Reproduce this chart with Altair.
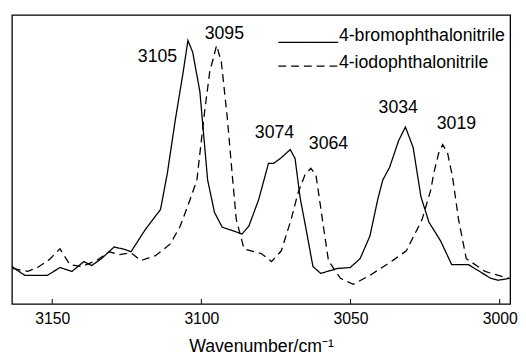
import altair as alt
import pandas as pd

# 4-bromophthalonitrile (solid)
bromo_wn = [3163.5, 3159.2, 3151.6, 3147.4, 3143.4, 3139.4, 3136.8, 3133.5, 3129.2, 3125.3,
            3123.6, 3118.7, 3113.7, 3111.4, 3108.8, 3106.1, 3104.5, 3102.9, 3100.5, 3097.9,
            3095.6, 3093.0, 3089.0, 3086.4, 3084.1, 3080.8, 3077.5, 3075.8, 3073.5, 3070.2,
            3068.6, 3066.9, 3064.9, 3062.6, 3060.0, 3054.4, 3050.1, 3046.8, 3043.5, 3040.9,
            3039.2, 3036.9, 3033.9, 3031.6, 3029.0, 3026.4, 3023.7, 3019.8, 3016.1, 3010.5,
            3003.0, 3000.6, 2996.7]
bromo_int = [38, 29, 29, 37, 33, 43, 39, 46, 58, 55,
             53, 76, 96, 133, 186, 236, 268, 256, 216, 126,
             93, 78, 74, 71, 79, 106, 143, 143, 148, 157,
             148, 108, 76, 38, 31, 36, 37, 46, 69, 106,
             126, 139, 166, 180, 159, 109, 83, 64, 40, 40,
             26, 24, 26]

# 4-iodophthalonitrile (dashed)
iodo_wn = [3163.2, 3158.2, 3154.9, 3151.0, 3147.4, 3144.1, 3140.1, 3135.2, 3130.9, 3127.6,
           3123.6, 3120.3, 3115.4, 3110.4, 3107.1, 3103.8, 3101.5, 3098.9, 3097.2, 3094.9,
           3093.3, 3091.3, 3089.7, 3088.3, 3085.7, 3079.8, 3076.5, 3073.2, 3069.9, 3067.6,
           3065.3, 3063.3, 3061.6, 3061.0, 3059.3, 3057.4, 3053.4, 3049.1, 3043.5, 3035.9,
           3031.3, 3026.0, 3023.1, 3022.1, 3020.4, 3019.1, 3017.5, 3015.8, 3013.8, 3011.2,
           3004.9, 2998.3, 2996.7]
iodo_int = [36, 33, 37, 45, 56, 40, 38, 44, 53, 50,
            52, 44, 49, 61, 79, 106, 126, 196, 236, 263,
            246, 189, 133, 86, 56, 51, 43, 54, 86, 113,
            131, 138, 131, 119, 83, 44, 26, 20, 29, 44,
            54, 86, 116, 133, 154, 162, 154, 129, 86, 46,
            33, 27, 26]

series_names = ["4-bromophthalonitrile", "4-iodophthalonitrile"]

# peak annotations
peak_text = ["3105", "3095", "3074", "3064", "3034", "3019"]
peak_wn = [3114.7, 3092.3, 3075.5, 3057.4, 3034.0, 3014.5]
peak_int = [251, 275, 174, 163, 199, 183]

# legend (drawn inside the plot, in data units)
legend_line_start = [3074.2, 3074.2]
legend_line_end = [3054.1, 3054.1]
legend_line_int = [266, 242]
legend_text_wn = [3053.9, 3053.9]
legend_text_int = [272, 245]

tick_values = [3150, 3100, 3050, 3000]

rows = []
for i, (w, v) in enumerate(zip(bromo_wn, bromo_int)):
    rows.append({"wn": w, "I": v, "s": series_names[0], "o": i})
for i, (w, v) in enumerate(zip(iodo_wn, iodo_int)):
    rows.append({"wn": w, "I": v, "s": series_names[1], "o": i})
df = pd.DataFrame(rows)

peaks = pd.DataFrame({"t": peak_text, "wn": peak_wn, "I": peak_int})
ticks = pd.DataFrame({"wn": tick_values, "y0": [0] * 4, "y1": [5] * 4})
leg = pd.DataFrame({"s": series_names, "x1": legend_line_start, "x2": legend_line_end,
                    "yl": legend_line_int, "xt": legend_text_wn, "yt": legend_text_int})

FONT = "Liberation Sans"
xscale = alt.Scale(domain=[3163.5, 2996.5], nice=False, zero=False)
yscale = alt.Scale(domain=[0, 294], nice=False, zero=False)
dash = alt.StrokeDash("s:N", scale=alt.Scale(domain=series_names, range=[[1, 0], [8, 5]]),
                      legend=None)

lines = alt.Chart(df).mark_line(color="black", strokeWidth=1.3).encode(
    x=alt.X("wn:Q", scale=xscale,
            axis=alt.Axis(values=tick_values, title="Wavenumber/cm\u207b\u00b9", format="d",
                          domain=False, ticks=False, grid=False, labelPadding=7,
                          labelFontSize=16, labelFont=FONT, labelColor="black",
                          titleFontSize=18, titleFont=FONT, titleFontWeight="normal",
                          titleColor="black", titlePadding=11)),
    y=alt.Y("I:Q", scale=yscale, axis=None),
    strokeDash=dash,
    order="o:Q",
)

labels = alt.Chart(peaks).mark_text(fontSize=18, font=FONT, color="black").encode(
    x=alt.X("wn:Q", scale=xscale), y=alt.Y("I:Q", scale=yscale), text="t:N"
)

tickmarks = alt.Chart(ticks).mark_rule(color="black", strokeWidth=1).encode(
    x=alt.X("wn:Q", scale=xscale), y=alt.Y("y0:Q", scale=yscale), y2="y1:Q"
)

leg_lines = alt.Chart(leg).mark_rule(color="black", strokeWidth=1.3).encode(
    x=alt.X("x1:Q", scale=xscale), x2="x2:Q", y=alt.Y("yl:Q", scale=yscale),
    strokeDash=dash,
)
leg_text = alt.Chart(leg).mark_text(fontSize=18, font=FONT, color="black", align="left",
                                    baseline="middle").encode(
    x=alt.X("xt:Q", scale=xscale), y=alt.Y("yt:Q", scale=yscale), text="s:N"
)

chart = alt.layer(lines, labels, tickmarks, leg_lines, leg_text).properties(
    width=507, height=294,
    padding={"left": 1, "top": 4, "right": 0, "bottom": 0},
    background="white",
).configure_view(stroke="black", strokeWidth=1.3)

chart.save("out.html", embed_options={"renderer": "svg", "actions": False})
